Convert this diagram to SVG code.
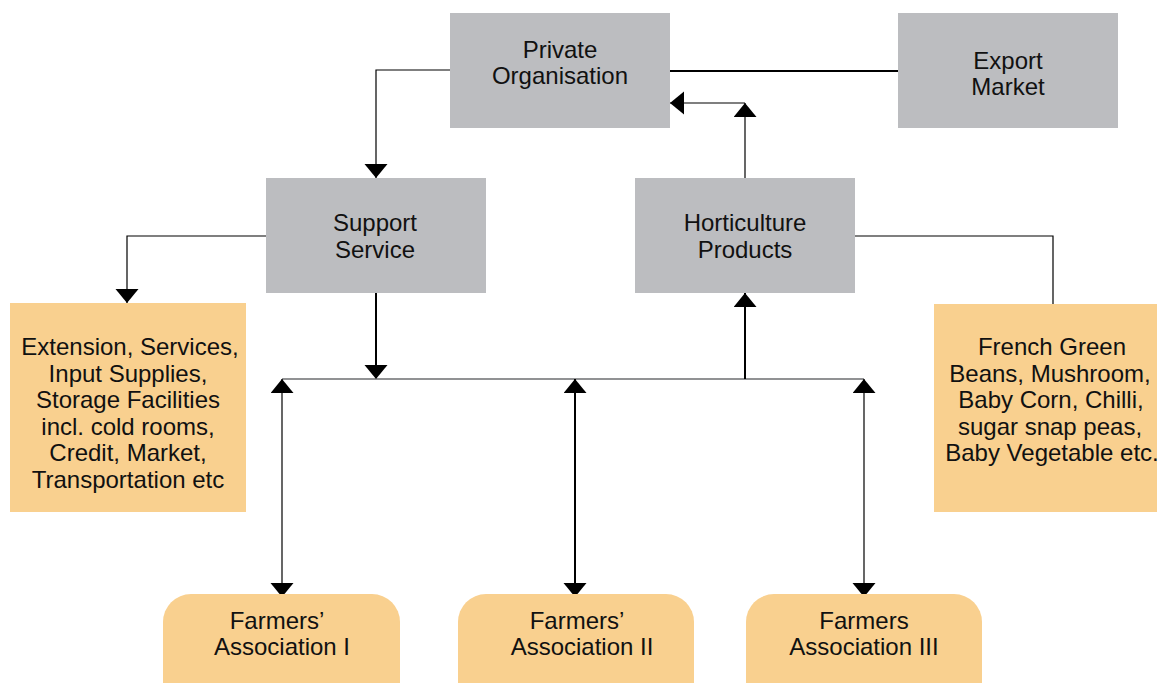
<svg xmlns="http://www.w3.org/2000/svg" width="1157" height="683" viewBox="0 0 1157 683">
<defs>
<style>
.gray{fill:#bcbdc0;}
.orange{fill:#f9d08f;}
text{font-family:"Liberation Sans",Arial,sans-serif;font-size:24px;fill:#111;text-anchor:middle;}
.c{fill:none;stroke:#000;stroke-width:1.2;}
.t{fill:none;stroke:#000;stroke-width:2;}
.g{fill:none;stroke:#6d6e70;stroke-width:1.5;}
</style>
<marker id="ah" markerUnits="userSpaceOnUse" markerWidth="16" markerHeight="24" refX="14" refY="11.5" orient="auto-start-reverse" viewBox="0 0 16 24">
<path d="M0,0 L14,11.5 L0,23 Z" fill="#000"/>
</marker>
</defs>
<rect width="1157" height="683" fill="#fff"/>
<g id="connectors">
<line class="t" x1="670" y1="71" x2="898" y2="71"/>
<polyline class="c" points="450,70 376,70 376,178" marker-end="url(#ah)"/>
<line class="c" x1="745" y1="178" x2="745" y2="103" marker-end="url(#ah)"/>
<line class="c" x1="745" y1="103" x2="670" y2="103" marker-end="url(#ah)"/>
<polyline class="c" points="266,236 127,236 127,303" marker-end="url(#ah)"/>
<polyline class="c" points="855,236 1053,236 1053,304"/>
<line class="t" x1="376" y1="293" x2="376" y2="379" marker-end="url(#ah)"/>
<line class="g" x1="282" y1="379" x2="864" y2="379"/>
<line class="t" x1="745" y1="379" x2="745" y2="293" marker-end="url(#ah)"/>
<line class="c" x1="282" y1="379" x2="282" y2="597" marker-start="url(#ah)" marker-end="url(#ah)"/>
<line class="t" x1="575" y1="379" x2="575" y2="597" marker-start="url(#ah)" marker-end="url(#ah)"/>
<line class="c" x1="864" y1="379" x2="864" y2="597" marker-start="url(#ah)" marker-end="url(#ah)"/>
</g>
<g id="private-organisation">
<rect class="gray" x="450" y="13" width="220" height="115"/>
<text x="560" y="58">Private</text>
<text x="560" y="84">Organisation</text>
</g>
<g id="export-market">
<rect class="gray" x="898" y="13" width="220" height="115"/>
<text x="1008" y="69">Export</text>
<text x="1008" y="95">Market</text>
</g>
<g id="support-service">
<rect class="gray" x="266" y="178" width="220" height="115"/>
<text x="375" y="231">Support</text>
<text x="375" y="258">Service</text>
</g>
<g id="horticulture-products">
<rect class="gray" x="635" y="178" width="220" height="115"/>
<text x="745" y="231">Horticulture</text>
<text x="745" y="258">Products</text>
</g>
<g id="services-list">
<rect class="orange" x="10" y="303" width="236" height="209"/>
<text x="130" y="355">Extension, Services,</text>
<text x="128" y="381.5">Input Supplies,</text>
<text x="128" y="408">Storage Facilities</text>
<text x="128" y="434.5">incl. cold rooms,</text>
<text x="128" y="461">Credit, Market,</text>
<text x="128" y="487.5">Transportation etc</text>
</g>
<g id="products-list">
<rect class="orange" x="934" y="304" width="230" height="208"/>
<text x="1052" y="355">French Green</text>
<text x="1050" y="381.5">Beans, Mushroom,</text>
<text x="1051" y="408">Baby Corn, Chilli,</text>
<text x="1050" y="434.5">sugar snap peas,</text>
<text x="1052" y="461">Baby Vegetable etc.</text>
</g>
<g id="farmers-association-1">
<rect class="orange" x="163" y="594" width="237" height="130" rx="28"/>
<text x="277" y="629">Farmers’</text>
<text x="282" y="655">Association I</text>
</g>
<g id="farmers-association-2">
<rect class="orange" x="458" y="594" width="236" height="130" rx="28"/>
<text x="577" y="629">Farmers’</text>
<text x="582" y="655">Association II</text>
</g>
<g id="farmers-association-3">
<rect class="orange" x="746" y="594" width="236" height="130" rx="28"/>
<text x="864" y="629">Farmers</text>
<text x="864" y="655">Association III</text>
</g>
</svg>
